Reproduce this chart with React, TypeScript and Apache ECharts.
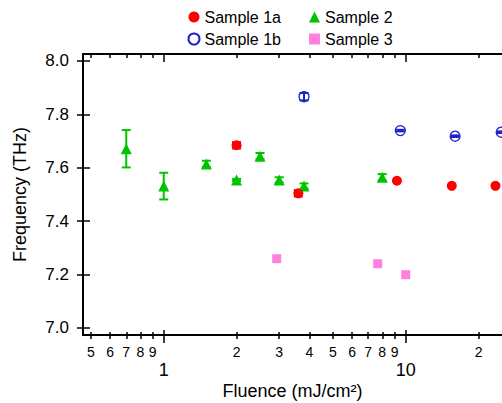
import React, { useEffect, useRef } from 'react';
import * as echarts from 'echarts';

// ---- data ----
const sample1aX = [2.0, 3.6, 9.2, 15.5, 23.5];
const sample1aY = [7.684, 7.504, 7.551, 7.532, 7.532];
const sample1aErr = [0.012, 0.012, 0, 0, 0];

const sample1bX = [3.8, 9.5, 16.0, 24.8];
const sample1bY = [7.866, 7.739, 7.718, 7.733];
const sample1bErr = [0.014, 0.003, 0.003, 0.003];

const sample2X = [0.7, 1.0, 1.5, 2.0, 2.5, 3.0, 3.8, 8.0];
const sample2Y = [7.671, 7.531, 7.614, 7.554, 7.643, 7.554, 7.531, 7.564];
const sample2Err = [0.07, 0.05, 0.012, 0.004, 0.012, 0.01, 0.01, 0.012];

const sample3X = [2.93, 7.66, 10.0];
const sample3Y = [7.259, 7.24, 7.199];

const minorTicks = [0.5, 0.6, 0.7, 0.8, 0.9, 2, 3, 4, 5, 6, 7, 8, 9, 20];
const minorTickLabels = ['5', '6', '7', '8', '9', '2', '3', '4', '5', '6', '7', '8', '9', '2'];
const majorTicks = [1, 10];
const majorTickLabels = ['1', '10'];
const yTicks = [7.0, 7.2, 7.4, 7.6, 7.8, 8.0];
const yTickLabels = ['7.0', '7.2', '7.4', '7.6', '7.8', '8.0'];

const xMin = 0.4638;
const xMax = 25.0;
const yMin = 6.973;
const yMax = 8.026;

const FONT = '"Liberation Sans", Arial, Helvetica, sans-serif';
const RED = '#ff0000';
const BLUE = '#2020d0';
const GREEN = '#00c400';
const PINK = '#ff80e0';

function nearestLabel(v: number, vals: number[], labels: string[]) {
  let best = 0;
  let bd = Infinity;
  vals.forEach((t, i) => {
    const d = Math.abs(Math.log10(t) - Math.log10(v));
    if (d < bd) { bd = d; best = i; }
  });
  return labels[best];
}

function zip(xs: number[], ys: number[]) {
  return xs.map((x, i) => [x, ys[i]]);
}
function zip3(xs: number[], ys: number[], es: number[]) {
  return xs.map((x, i) => [x, ys[i], es[i]]).filter((d) => d[2] > 0);
}

function errSeries(name: string, data: number[][], color: string) {
  return {
    type: 'custom',
    name,
    xAxisIndex: 0,
    yAxisIndex: 0,
    data,
    z: 5,
    renderItem: (params: any, api: any) => {
      const x = api.value(0);
      const y = api.value(1);
      const e = api.value(2);
      const top = api.coord([x, y + e]);
      const bot = api.coord([x, y - e]);
      const hw = 4.5;
      const st = { stroke: color, lineWidth: 2 };
      return {
        type: 'group',
        children: [
          { type: 'line', shape: { x1: top[0], y1: top[1], x2: bot[0], y2: bot[1] }, style: st },
          { type: 'line', shape: { x1: top[0] - hw, y1: top[1], x2: top[0] + hw, y2: top[1] }, style: st },
          { type: 'line', shape: { x1: bot[0] - hw, y1: bot[1], x2: bot[0] + hw, y2: bot[1] }, style: st },
        ],
      };
    },
  };
}

export default function App() {
  const ref = useRef<HTMLDivElement>(null);
  useEffect(() => {
    if (!ref.current) return;
    const chart = echarts.init(ref.current, null, { renderer: 'svg' });
    const tickLine = { color: '#000', width: 1.5 };
    const xBase: any = {
      type: 'log',
      logBase: 10,
      min: xMin,
      max: xMax,
      gridIndex: 0,
      splitLine: { show: false },
      minorTick: { show: false },
      minorSplitLine: { show: false },
      axisLine: { show: false, onZero: false },
      axisTick: { show: false },
      axisLabel: { show: false },
    };
    const yBase: any = {
      type: 'value',
      min: yMin,
      max: yMax,
      gridIndex: 0,
      splitLine: { show: false },
      axisLine: { show: false, onZero: false },
      axisTick: { show: false },
      axisLabel: { show: false },
    };
    const legendCommon: any = {
      orient: 'vertical',
      top: 4,
      itemWidth: 11,
      itemHeight: 11,
      itemGap: 6,
      textStyle: { fontSize: 16, fontFamily: FONT, color: '#000' },
    };
    const option: any = {
      animation: false,
      backgroundColor: '#ffffff',
      grid: { left: 83, right: 0, top: 54, bottom: 68, containLabel: false, outerBoundsMode: 'none' },
      legend: [
        { ...legendCommon, left: 182.5, data: ['Sample 1a', 'Sample 1b'] },
        { ...legendCommon, left: 304, data: ['Sample 2', 'Sample 3'] },
      ],
      xAxis: [
        {
          ...xBase,
          position: 'bottom',
          axisLine: { show: true, onZero: false, lineStyle: { color: '#000', width: 2 } },
          axisTick: { show: true, inside: false, length: 4, lineStyle: tickLine, customValues: minorTicks },
          axisLabel: {
            show: true,
            customValues: minorTicks,
            formatter: (v: number) => nearestLabel(v, minorTicks, minorTickLabels),
            margin: 10,
            fontSize: 14,
            color: '#000',
            fontFamily: FONT,
          },
          name: 'Fluence (mJ/cm²)',
          nameLocation: 'middle',
          nameGap: 47,
          nameTextStyle: { fontSize: 18, fontFamily: FONT, color: '#000' },
        },
        {
          ...xBase,
          position: 'bottom',
          axisTick: { show: true, inside: true, length: 3, lineStyle: tickLine, customValues: minorTicks },
        },
        {
          ...xBase,
          position: 'bottom',
          axisTick: { show: true, inside: false, length: 8, lineStyle: tickLine, customValues: majorTicks },
          axisLabel: {
            show: true,
            customValues: majorTicks,
            formatter: (v: number) => nearestLabel(v, majorTicks, majorTickLabels),
            margin: 26,
            fontSize: 18,
            color: '#000',
            fontFamily: FONT,
          },
        },
        {
          ...xBase,
          position: 'bottom',
          axisTick: { show: true, inside: true, length: 5, lineStyle: tickLine, customValues: majorTicks },
        },
        {
          ...xBase,
          position: 'top',
          axisLine: { show: true, onZero: false, lineStyle: { color: '#000', width: 2 } },
          axisTick: { show: true, inside: true, length: 4, lineStyle: tickLine, customValues: minorTicks },
        },
        {
          ...xBase,
          position: 'top',
          axisTick: { show: true, inside: true, length: 8, lineStyle: tickLine, customValues: majorTicks },
        },
      ],
      yAxis: [
        {
          ...yBase,
          position: 'left',
          axisLine: { show: true, onZero: false, lineStyle: { color: '#000', width: 2 } },
          axisTick: { show: true, inside: false, length: 6, lineStyle: tickLine, customValues: yTicks },
          axisLabel: {
            show: true,
            customValues: yTicks,
            formatter: (v: number) => {
              let best = 0;
              yTicks.forEach((t, i) => { if (Math.abs(t - v) < Math.abs(yTicks[best] - v)) best = i; });
              return yTickLabels[best];
            },
            margin: 14,
            fontSize: 17,
            color: '#000',
            fontFamily: FONT,
          },
          name: 'Frequency (THz)',
          nameLocation: 'middle',
          nameGap: 54,
          nameTextStyle: { fontSize: 18, fontFamily: FONT, color: '#000' },
        },
        {
          ...yBase,
          position: 'left',
          axisTick: { show: true, inside: true, length: 7, lineStyle: tickLine, customValues: yTicks },
        },
      ],
      series: [
        {
          type: 'scatter',
          name: 'Sample 1a',
          symbol: 'circle',
          symbolSize: 10,
          itemStyle: { color: RED, opacity: 1 },
          data: zip(sample1aX, sample1aY),
        },
        {
          type: 'scatter',
          name: 'Sample 1b',
          symbol: 'circle',
          symbolSize: 10,
          itemStyle: { color: '#ffffff', borderColor: BLUE, borderWidth: 1.3, opacity: 1 },
          data: zip(sample1bX, sample1bY),
        },
        {
          type: 'scatter',
          name: 'Sample 2',
          symbol: 'triangle',
          symbolSize: 11,
          itemStyle: { color: GREEN, opacity: 1 },
          data: zip(sample2X, sample2Y),
        },
        {
          type: 'scatter',
          name: 'Sample 3',
          symbol: 'rect',
          symbolSize: 9,
          itemStyle: { color: PINK, opacity: 1 },
          data: zip(sample3X, sample3Y),
        },
        errSeries('err1a', zip3(sample1aX, sample1aY, sample1aErr), RED),
        errSeries('err1b', zip3(sample1bX, sample1bY, sample1bErr), BLUE),
        errSeries('err2', zip3(sample2X, sample2Y, sample2Err), GREEN),
      ],
    };
    chart.setOption(option);
    return () => chart.dispose();
  }, []);
  return (
    <div
      ref={ref}
      style={{ position: 'fixed', left: 0, top: 0, width: 502, height: 403, background: '#fff' }}
    />
  );
}
